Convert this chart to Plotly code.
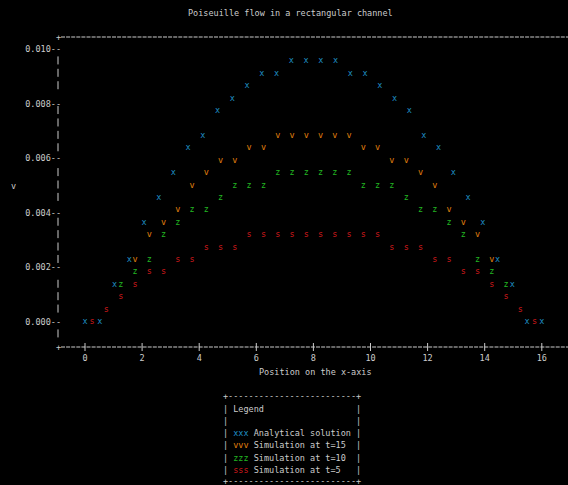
import plotly.graph_objects as go

# ---------------- data ----------------
title = "Poiseuille flow in a rectangular channel"
x_title = "Position on the x-axis"
y_title = "v"

x_analytical = [0.0, 0.516, 1.032, 1.548, 2.065, 2.581, 3.097, 3.613, 4.129, 4.645,
                5.161, 5.677, 6.194, 6.710, 7.226, 7.742, 8.258, 8.774, 9.290, 9.806,
                10.323, 10.839, 11.355, 11.871, 12.387, 12.903, 13.419, 13.935, 14.452,
                14.968, 15.484, 16.0]
v_analytical = [0.0, 0.0, 0.00136, 0.00227, 0.00364, 0.00455, 0.00545, 0.00636, 0.00682,
                0.00773, 0.00818, 0.00864, 0.00909, 0.00909, 0.00955, 0.00955, 0.00955,
                0.00955, 0.00909, 0.00909, 0.00864, 0.00818, 0.00773, 0.00682, 0.00636,
                0.00545, 0.00455, 0.00364, 0.00227, 0.00136, 0.0, 0.0]

x_sim = [0.25, 0.75, 1.25, 1.75, 2.25, 2.75, 3.25, 3.75, 4.25, 4.75, 5.25, 5.75,
         6.25, 6.75, 7.25, 7.75, 8.25, 8.75, 9.25, 9.75, 10.25, 10.75, 11.25, 11.75,
         12.25, 12.75, 13.25, 13.75, 14.25, 14.75, 15.25, 15.75]
v_t15 = [None, None, None, 0.00227, 0.00318, 0.00364, 0.00409, 0.00500, 0.00545, 0.00591,
         0.00591, 0.00636, 0.00636, 0.00682, 0.00682, 0.00682, 0.00682, 0.00682, 0.00682,
         0.00636, 0.00636, 0.00591, 0.00591, 0.00545, 0.00500, 0.00409, 0.00364, 0.00318,
         0.00227, None, None, None]
v_t10 = [None, None, 0.00136, 0.00182, 0.00227, 0.00318, 0.00364, 0.00409, 0.00409,
         0.00455, 0.00500, 0.00500, 0.00500, 0.00545, 0.00545, 0.00545, 0.00545, 0.00545,
         0.00545, 0.00500, 0.00500, 0.00500, 0.00455, 0.00409, 0.00409, 0.00364, 0.00318,
         0.00227, 0.00182, 0.00136, None, None]
v_t5 = [0.0, 0.00045, 0.00091, 0.00136, 0.00182, 0.00182, 0.00227, 0.00227, 0.00273,
        0.00273, 0.00273, 0.00318, 0.00318, 0.00318, 0.00318, 0.00318, 0.00318, 0.00318,
        0.00318, 0.00318, 0.00318, 0.00273, 0.00273, 0.00273, 0.00227, 0.00227, 0.00182,
        0.00182, 0.00136, 0.00091, 0.00045, 0.0]

series_names = ["Analytical solution", "Simulation at t=15", "Simulation at t=10", "Simulation at t=5"]
series_symbols = ["x", "v", "z", "s"]
series_colors = ["#1f8fc4", "#e5820e", "#22b822", "#d0191b"]

x_ticks = [0, 2, 4, 6, 8, 10, 12, 14, 16]
x_tick_labels = ["0", "2", "4", "6", "8", "10", "12", "14", "16"]
y_ticks = [0.0, 0.002, 0.004, 0.006, 0.008, 0.010]
y_tick_labels = ["0.000", "0.002", "0.004", "0.006", "0.008", "0.010"]

# ---------------- layout geometry ----------------
W, H = 568, 485
L, R, T, B = 62, 568, 37, 347
MONO = "DejaVu Sans Mono"
FS = 8.5
AX = "#cccccc"
BG = "#000000"

X0_PX, X_SCALE = 85.0, 28.55
Y0_PX, Y_SCALE = 322.0, 27300.0
x_range = [(L - X0_PX) / X_SCALE, (R - X0_PX) / X_SCALE]
y_range = [(Y0_PX - B) / Y_SCALE, (Y0_PX - T) / Y_SCALE]


def px2x(px):
    return (px - L) / (R - L)


def py2y(py):
    return (B - py) / (B - T)


def txt(s, px, py, xanchor="center", color=AX):
    return dict(text=s, x=px2x(px), y=py2y(py), xref="paper", yref="paper",
                xanchor=xanchor, yanchor="middle", showarrow=False, borderpad=0,
                font=dict(family=MONO, size=FS, color=color))


fig = go.Figure()
xs = [x_analytical, x_sim, x_sim, x_sim]
ys = [v_analytical, v_t15, v_t10, v_t5]
for xv, yv, nm, sym, col in zip(xs, ys, series_names, series_symbols, series_colors):
    fig.add_trace(go.Scatter(x=xv, y=yv, mode="text", text=[sym] * len(xv),
                             textposition="middle center", name=nm, showlegend=False,
                             textfont=dict(family=MONO, size=FS, color=col)))

shapes = []
dash_h = "4px,1.1px"
# top and bottom borders
for yy in (0, 1):
    shapes.append(dict(type="line", xref="paper", yref="paper", x0=px2x(61), x1=1,
                       y0=yy, y1=yy, line=dict(color=AX, width=1, dash=dash_h)))
# x tick marks '|'
for t in x_ticks:
    shapes.append(dict(type="line", xref="x", yref="paper", x0=t, x1=t,
                       y0=py2y(351), y1=py2y(343), line=dict(color=AX, width=1)))
# left axis '|' characters per text row
ROW0, ROWH = 49.0, 273.0 / 22
tick_px = [Y0_PX - Y_SCALE * t for t in y_ticks]
for r in range(1, 24):
    c = ROW0 + ROWH * r
    if min(abs(c - tp) for tp in tick_px) < 6:
        continue
    shapes.append(dict(type="line", xref="paper", yref="paper", x0=px2x(58), x1=px2x(58),
                       y0=py2y(c + 3), y1=py2y(c - 5), line=dict(color=AX, width=1)))

annotations = [
    txt("+", 58, 37), txt("+", 58, 347),
    txt(title, 290, 13),
    txt(y_title, 13, 186),
    txt(x_title, 315, 372),
]

# ASCII legend box
NB = "\u00a0"
inner = 25
legend_lines = ["+" + "-" * inner + "+",
                "|" + (" Legend").ljust(inner, " ") + "|",
                "|" + " " * inner + "|"]
for nm, sym, col in zip(series_names, series_symbols, series_colors):
    plain = " " + sym * 3 + " " + nm
    pad = inner - len(plain)
    legend_lines.append("| " + f"<span style='color:{col}'>{sym * 3}</span>" + " " + nm + " " * pad + "|")
legend_lines.append("+" + "-" * inner + "+")
legend_y = [396, 409, 421, 433, 445, 458, 470, 481]
for line, yy in zip(legend_lines, legend_y):
    annotations.append(txt(line.replace(" ", NB).replace("span" + NB, "span "), 221.5, yy, xanchor="left"))

fig.update_layout(
    width=W, height=H,
    margin=dict(l=L, r=W - R, t=T, b=H - B, pad=0),
    paper_bgcolor=BG, plot_bgcolor=BG,
    showlegend=False,
    font=dict(family=MONO, size=FS, color=AX),
    xaxis=dict(range=x_range, showgrid=False, zeroline=False, showline=False,
               tickmode="array", tickvals=x_ticks, ticktext=x_tick_labels, ticks="",
               ticklabelstandoff=4,
               tickfont=dict(family=MONO, size=FS, color=AX), fixedrange=True),
    yaxis=dict(range=y_range, showgrid=False, zeroline=False, showline=False,
               tickmode="array", tickvals=y_ticks, ticktext=[s + "--" for s in y_tick_labels],
               ticks="", tickfont=dict(family=MONO, size=FS, color=AX), fixedrange=True),
    shapes=shapes,
    annotations=annotations,
)

page_css = ("document.body.style.margin='0';document.body.style.padding='0';"
            "document.body.style.background='#000';"
            "document.documentElement.style.background='#000';"
            "document.body.style.overflow='hidden';")
fig.write_html("out.html", post_script=page_css, config={"displayModeBar": False})
